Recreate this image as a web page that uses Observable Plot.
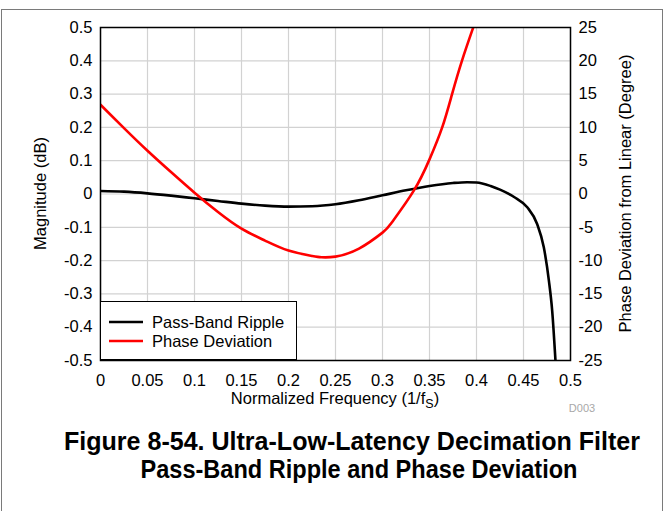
<!DOCTYPE html>
<html>
<head>
<meta charset="utf-8">
<script src="https://cdn.jsdelivr.net/npm/d3@7"></script>
<script src="https://cdn.jsdelivr.net/npm/@observablehq/plot@0.6"></script>
<style>
  html, body { margin: 0; padding: 0; background: #fff; overflow: hidden; }
  #wrap { position: relative; width: 666px; height: 511px; font-family: "Liberation Sans", Arial, sans-serif; }
  #border { position: absolute; left: 1px; top: 9px; width: 662px; height: 540px; border: 1px solid #7a7a7a; box-sizing: border-box; }
  #chart { position: absolute; left: 0; top: 0; }
  #legend { position: absolute; left: 100px; top: 301px; width: 197px; height: 59px; box-sizing: border-box;
            border: 1px solid #000; background: #fff; font-size: 16.5px; }
  .li { position: absolute; left: 8px; height: 20px; display: flex; align-items: center; }
  .li svg { margin-right: 9px; }
  #title { position: absolute; left: 0; top: 415px; }
</style>
</head>
<body>
<div id="wrap">
  <div id="border"></div>
  <div id="chart"></div>
  <div id="legend"></div>
  <div id="title"></div>
</div>
<script>
// ---- data ----
const rippleFreq = [0, 0.025, 0.05, 0.075, 0.1, 0.125, 0.15, 0.175, 0.2, 0.225, 0.25, 0.275, 0.3, 0.325, 0.35, 0.375, 0.39, 0.4, 0.415, 0.425, 0.44, 0.454, 0.4645, 0.4716, 0.477, 0.4805, 0.484];
const rippleDb   = [0.009, 0.007, 0.002, -0.005, -0.013, -0.021, -0.029, -0.035, -0.038, -0.037, -0.031, -0.019, -0.004, 0.011, 0.024, 0.033, 0.0355, 0.0345, 0.024, 0.013, -0.009, -0.04, -0.09, -0.16, -0.26, -0.35, -0.5];

const phaseFreq = [0, 0.025, 0.05, 0.075, 0.1, 0.125, 0.15, 0.175, 0.2, 0.225, 0.235, 0.25, 0.275, 0.3, 0.3103, 0.3333, 0.35, 0.3635, 0.374, 0.3845, 0.3965];
const phaseDeg  = [13.4, 9.9, 6.5, 3.3, 0.2, -2.7, -5.2, -7.0, -8.5, -9.3, -9.5, -9.4, -8.2, -5.8, -4.2, 0.5, 5.2, 10, 15, 20, 25];

const xTicks = [0, 0.05, 0.1, 0.15, 0.2, 0.25, 0.3, 0.35, 0.4, 0.45, 0.5];
const leftTicks = [-0.5, -0.4, -0.3, -0.2, -0.1, 0, 0.1, 0.2, 0.3, 0.4, 0.5];
const rightTicks = [-25, -20, -15, -10, -5, 0, 5, 10, 15, 20, 25];

const seriesNames = ["Pass-Band Ripple", "Phase Deviation"];
const seriesColors = ["#000000", "#ff0000"];

const xLabel = "Normalized Frequency (1/f";
const xLabelSub = "S";
const yLeftLabel = "Magnitude (dB)";
const yRightLabel = "Phase Deviation from Linear (Degree)";
const titleLines = ["Figure 8-54. Ultra-Low-Latency Decimation Filter", "Pass-Band Ripple and Phase Deviation"];
const docId = "D003";

// ---- build ----
const DEG_PER_DB = 50; // right axis span 50 deg over left span 1 dB
const ripple = rippleFreq.map((f, i) => ({f, v: rippleDb[i]}));
const phase = phaseFreq.map((f, i) => ({f, v: phaseDeg[i] / DEG_PER_DB}));
const fmt = d => String(Math.round(d * 100) / 100);
const FS = 16.5;

const W = 666, H = 415;
const chart = Plot.plot({
  width: W, height: H,
  marginLeft: 100, marginRight: 96, marginTop: 27, marginBottom: 55,
  x: {domain: [0, 0.5]},
  y: {domain: [-0.5, 0.5]},
  style: {fontFamily: '"Liberation Sans", Arial, sans-serif', fontSize: FS + "px", color: "#000", background: "transparent", overflow: "visible"},
  marks: [
    Plot.gridX(xTicks, {stroke: "#d2d2d2", strokeOpacity: 1, strokeWidth: 1.2}),
    Plot.gridY(leftTicks, {stroke: "#d2d2d2", strokeOpacity: 1, strokeWidth: 1.2}),
    Plot.line(ripple, {x: "f", y: "v", curve: "monotone-x", stroke: seriesColors[0], strokeWidth: 2.6, clip: true}),
    Plot.line(phase, {x: "f", y: "v", curve: "natural", stroke: seriesColors[1], strokeWidth: 2.6, clip: true}),
    Plot.frame({stroke: "#000", strokeWidth: 1.5}),
    Plot.axisX(xTicks, {tickSize: 0, tickPadding: 14, tickFormat: fmt, label: null}),
    Plot.axisY(leftTicks, {anchor: "left", tickSize: 0, tickPadding: 8, tickFormat: fmt, label: null}),
    Plot.axisY(rightTicks.map(d => d / DEG_PER_DB), {anchor: "right", tickSize: 0, tickPadding: 8, tickFormat: d => String(Math.round(d * DEG_PER_DB)), label: null})
  ]
});
document.getElementById("chart").appendChild(chart);

const svg = d3.select(chart);
const xs = chart.scale("x"), ys = chart.scale("y");
const cx = (xs.range[0] + xs.range[1]) / 2;
const cy = (ys.range[0] + ys.range[1]) / 2;

// x axis label with subscript
const xl = svg.append("text").attr("x", cx).attr("y", 404).attr("text-anchor", "middle")
  .attr("font-size", FS).attr("fill", "#000");
xl.append("tspan").text(xLabel);
xl.append("tspan").attr("font-size", 12.5).attr("dy", 4).text(xLabelSub);
xl.append("tspan").attr("dy", -4).text(")");

svg.append("text").attr("transform", `translate(46,${cy}) rotate(-90)`).attr("text-anchor", "middle")
  .attr("font-size", FS).attr("fill", "#000").text(yLeftLabel);
svg.append("text").attr("transform", `translate(631,${cy}) rotate(-90)`).attr("text-anchor", "middle")
  .attr("font-size", FS).attr("fill", "#000").text(yRightLabel);

svg.append("text").attr("x", 582).attr("y", 412).attr("text-anchor", "middle")
  .attr("font-size", 11).attr("fill", "#a8a8a8").text(docId);

// legend
const legend = d3.select("#legend");
seriesNames.forEach((name, i) => {
  const item = legend.append("div").attr("class", "li").style("top", (i === 0 ? 10 : 29) + "px");
  const s = item.append("svg").attr("width", 34).attr("height", 4);
  s.append("line").attr("x1", 0).attr("x2", 34).attr("y1", 2).attr("y2", 2)
    .attr("stroke", seriesColors[i]).attr("stroke-width", 2.6);
  item.append("span").text(name);
});

// title
const tsvg = d3.select("#title").append("svg").attr("width", W).attr("height", 96);
const titleGeom = [{x: 352, y: 35, len: 576}, {x: 359, y: 63, len: 437}];
titleLines.forEach((t, i) => {
  tsvg.append("text").attr("x", titleGeom[i].x).attr("y", titleGeom[i].y).attr("text-anchor", "middle")
    .attr("font-family", '"Liberation Sans", Arial, sans-serif').attr("font-weight", "bold")
    .attr("font-size", 25).attr("textLength", titleGeom[i].len).attr("lengthAdjust", "spacingAndGlyphs")
    .attr("fill", "#000").text(t);
});
</script>
</body>
</html>
